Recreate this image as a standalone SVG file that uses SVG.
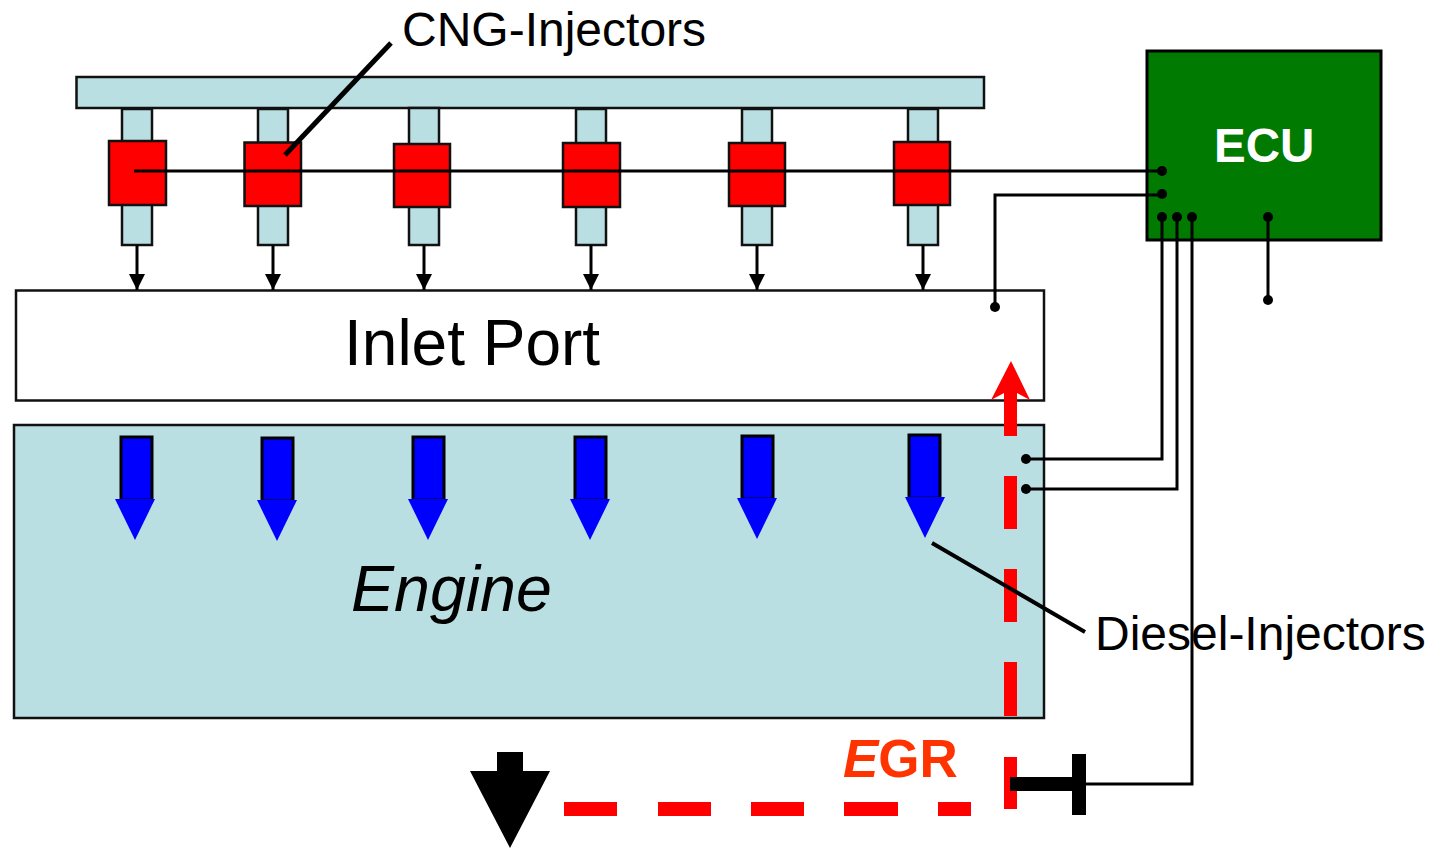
<svg xmlns="http://www.w3.org/2000/svg" width="1432" height="848" viewBox="0 0 1432 848">
<style>
.b{fill:#b9dfe2;stroke:#111;stroke-width:2.500}
.r{fill:#f00;stroke:#111;stroke-width:2.500}
.w{fill:none;stroke:#000;stroke-width:3}
.d{fill:#000}
.bs{fill:#00f;stroke:#000;stroke-width:3}
.bh{fill:#00f}
.eg{fill:#f00}
text{font-family:"Liberation Sans",Arial,sans-serif;fill:#000}
</style>
<defs>
<marker id="ah" markerUnits="userSpaceOnUse" markerWidth="16" markerHeight="16" refX="16" refY="8" orient="auto"><path d="M0,0L16,8L0,16z" fill="#000"/></marker>
</defs>
<g id="engine"><rect class="b" x="14" y="425" width="1030" height="293"/><text x="351" y="611" font-size="64.500" font-style="italic">Engine</text></g>
<g id="inlet-port"><rect x="16" y="290.500" width="1028" height="110" fill="#fff" stroke="#111" stroke-width="2.500"/><text x="344" y="365" font-size="64">Inlet Port</text></g>
<g id="rail"><rect class="b" x="76.500" y="77" width="907.500" height="31"/></g>
<g id="cng-1"><rect class="b" x="122" y="109" width="30" height="136"/><rect class="r" x="109" y="141" width="57" height="64"/></g>
<g id="cng-2"><rect class="b" x="258" y="109" width="30" height="136"/><rect class="r" x="244.500" y="142.500" width="56.500" height="63.500"/></g>
<g id="cng-3"><rect class="b" x="409" y="108" width="30" height="137"/><rect class="r" x="394" y="144" width="56" height="63"/></g>
<g id="cng-4"><rect class="b" x="576" y="109" width="30" height="136"/><rect class="r" x="563" y="143" width="57" height="64"/></g>
<g id="cng-5"><rect class="b" x="742" y="109" width="30" height="136"/><rect class="r" x="729" y="143" width="56" height="63"/></g>
<g id="cng-6"><rect class="b" x="908" y="109" width="30" height="136"/><rect class="r" x="894" y="142" width="56" height="63"/></g>
<g id="diesel-1"><rect class="bs" x="121" y="437" width="31" height="63"/><path class="bh" d="M115,499H155L135,540z"/></g>
<g id="diesel-2"><rect class="bs" x="262" y="438" width="31" height="63"/><path class="bh" d="M257,500H297L277,541z"/></g>
<g id="diesel-3"><rect class="bs" x="413" y="437" width="31" height="63"/><path class="bh" d="M408,499H448L428,540z"/></g>
<g id="diesel-4"><rect class="bs" x="575" y="437" width="31" height="63"/><path class="bh" d="M570,499H610L590,540z"/></g>
<g id="diesel-5"><rect class="bs" x="742" y="436" width="31" height="63"/><path class="bh" d="M737,498H777L757,539z"/></g>
<g id="diesel-6"><rect class="bs" x="909" y="435" width="31" height="63"/><path class="bh" d="M905,497H945L925,538z"/></g>
<g id="ecu"><rect x="1147" y="51" width="234" height="189" fill="#007a00" stroke="#000" stroke-width="3"/><text x="1214" y="162" font-size="47.500" font-weight="bold" style="fill:#fff">ECU</text></g>
<g id="egr-path">
<path class="eg" d="M1011,361L1030,400L1017,393V436H1004V393L991,400z"/>
<rect class="eg" x="1004" y="476" width="13" height="53"/>
<rect class="eg" x="1004" y="569" width="13" height="53"/>
<rect class="eg" x="1004" y="662" width="13" height="54"/>
<rect class="eg" x="1004" y="757" width="13" height="52"/>
<rect class="eg" x="564" y="802" width="53" height="14"/>
<rect class="eg" x="658" y="802" width="53" height="14"/>
<rect class="eg" x="751" y="802" width="53" height="14"/>
<rect class="eg" x="844" y="802" width="54" height="14"/>
<rect class="eg" x="938" y="802" width="33" height="14"/>
<text x="843" y="777" font-size="53" font-weight="bold" style="fill:#f30"><tspan font-style="italic">E</tspan>GR</text>
</g>
<g id="exhaust"><path class="d" d="M497,752H523V771H550L510,848L470,771H497z"/></g>
<g id="egr-valve"><rect class="d" x="1010" y="777" width="64" height="14"/><rect class="d" x="1072" y="754" width="14" height="61"/></g>
<g id="connectors">
<path class="w" d="M137,245V290" marker-end="url(#ah)"/>
<path class="w" d="M273,245V290" marker-end="url(#ah)"/>
<path class="w" d="M424,245V290" marker-end="url(#ah)"/>
<path class="w" d="M591,245V290" marker-end="url(#ah)"/>
<path class="w" d="M757,245V290" marker-end="url(#ah)"/>
<path class="w" d="M923,245V290" marker-end="url(#ah)"/>
<path class="w" d="M134,171H1162"/>
<path class="w" d="M995,307V195H1162"/>
<path class="w" d="M1026,459H1162V217"/>
<path class="w" d="M1026,489H1177V217"/>
<path class="w" d="M1086,784H1192V217"/>
<path class="w" d="M1268,217V300"/>
<path fill="none" stroke="#000" stroke-width="5" d="M391,43L285,155"/>
<path fill="none" stroke="#000" stroke-width="4" d="M932,543L1085,632"/>
<g class="d"><circle cx="1162" cy="171" r="5"/><circle cx="1162" cy="194" r="5"/><circle cx="1162" cy="217" r="5"/><circle cx="1177" cy="217" r="5"/><circle cx="1192" cy="217" r="5"/><circle cx="1268" cy="217" r="5"/><circle cx="1268" cy="300" r="5"/><circle cx="995" cy="307" r="5"/><circle cx="1026" cy="459" r="5"/><circle cx="1026" cy="489" r="5"/></g>
</g>
<text x="402" y="46" font-size="48">CNG-Injectors</text>
<text x="1095" y="650" font-size="48">Diesel-Injectors</text>
</svg>
